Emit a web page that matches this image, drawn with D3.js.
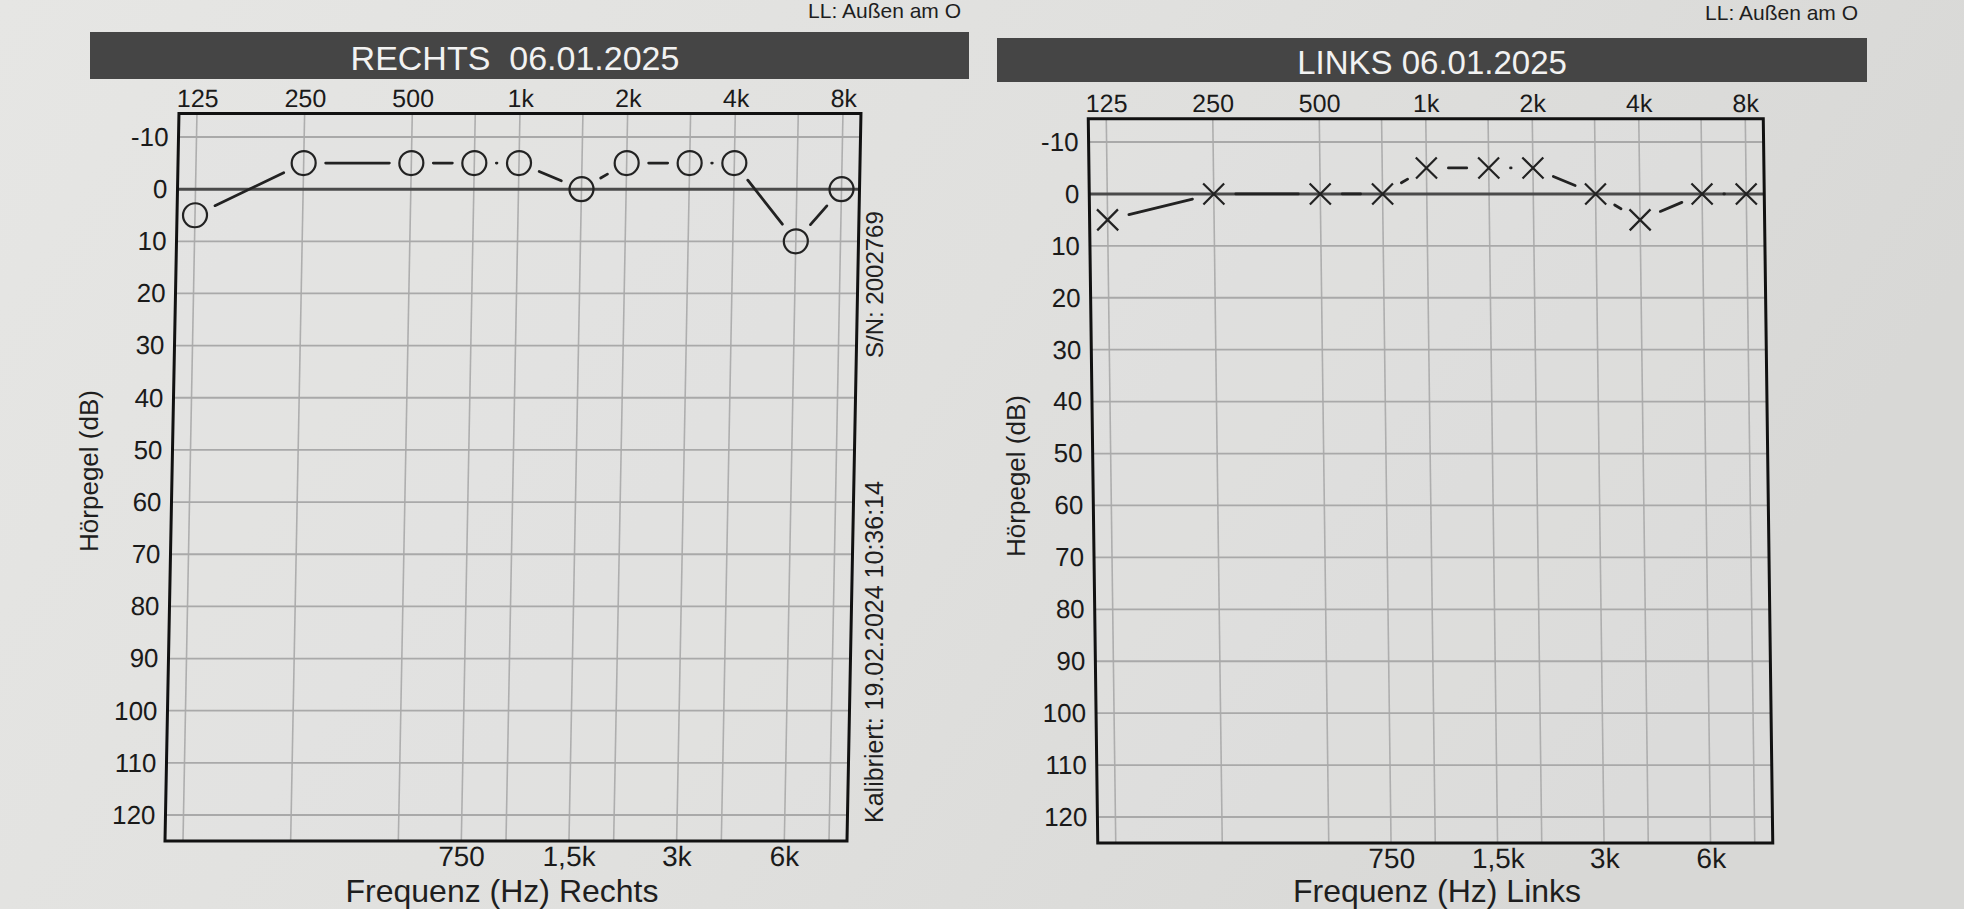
<!DOCTYPE html>
<html><head><meta charset="utf-8">
<script src="https://cdn.jsdelivr.net/npm/d3@7"></script>
<style>
html,body{margin:0;padding:0;background:#e0e0de;overflow:hidden;}
svg{display:block;}
</style></head><body>
<svg id="chart" width="1964" height="909"></svg>
<script>
// ---- data ----
const frequencies = [125, 250, 500, 750, 1000, 1500, 2000, 3000, 4000, 6000, 8000];
const rightEarDb = [5, -5, -5, -5, -5, 0, -5, -5, -5, 10, 0];
const leftEarDb  = [5, 0, 0, 0, -5, -5, -5, 0, 5, 0, 0];
const topTickValues = [125, 250, 500, 1000, 2000, 4000, 8000];
const topTickLabels = ["125", "250", "500", "1k", "2k", "4k", "8k"];
const bottomTickValues = [750, 1500, 3000, 6000];
const bottomTickLabels = ["750", "1,5k", "3k", "6k"];
const dbTicks = [-10, 0, 10, 20, 30, 40, 50, 60, 70, 80, 90, 100, 110, 120];
const panelTitles = ["RECHTS  06.01.2025", "LINKS 06.01.2025"];
const axisTitles = ["Frequenz (Hz) Rechts", "Frequenz (Hz) Links"];
const yAxisTitle = "Hörpegel (dB)";
const cornerNote = "LL: Außen am O";
const serialText = "S/N: 2002769";
const calibText = "Kalibriert: 19.02.2024 10:36:14";

// ---- layout (styling only) ----
const FONT = '"Liberation Sans", Arial, sans-serif';
const panels = [
  { values: rightEarDb, marker: "circle", xr: [190, 836], yr: [137, 815], skew: -1.1,
    bar: [90, 32, 879, 47], titleX: 515, titleY: 70, titleSize: 34,
    noteX: 961, noteY: 18, axTitleX: 502, ylabX: 98, ylabY: 471 },
  { values: leftEarDb, marker: "x", xr: [1111, 1750], yr: [142, 817], skew: 0.75,
    bar: [997, 38, 870, 44], titleX: 1432, titleY: 74, titleSize: 33,
    noteX: 1858, noteY: 20, axTitleX: 1437, ylabX: 1025, ylabY: 476 }
];

const svg = d3.select("#chart");
const defs = svg.append("defs");
const grad = defs.append("linearGradient").attr("id", "paper").attr("x1", 0).attr("x2", 1).attr("y1", 0).attr("y2", 0.3);
grad.append("stop").attr("offset", 0).attr("stop-color", "#e6e6e4");
grad.append("stop").attr("offset", 0.55).attr("stop-color", "#e0e0de");
grad.append("stop").attr("offset", 1).attr("stop-color", "#d8d8d6");
svg.append("rect").attr("width", 1964).attr("height", 909).attr("fill", "url(#paper)");

panels.forEach((p, pi) => {
  const x = d3.scaleLog().base(2).domain([125, 8000]).range(p.xr);
  const y = d3.scaleLinear().domain([-10, 120]).range(p.yr);

  // header bar and notes (outside skew)
  svg.append("rect").attr("x", p.bar[0]).attr("y", p.bar[1]).attr("width", p.bar[2]).attr("height", p.bar[3])
    .attr("fill", "#454545");
  svg.append("text").attr("x", p.titleX).attr("y", p.titleY).attr("text-anchor", "middle")
    .style("white-space", "pre").attr("font-family", FONT).attr("font-size", p.titleSize)
    .attr("fill", "#f2f2f2").text(panelTitles[pi]);
  svg.append("text").attr("x", p.noteX).attr("y", p.noteY).attr("text-anchor", "end")
    .attr("font-family", FONT).attr("font-size", 21).attr("fill", "#1e1e1e").text(cornerNote);
  svg.append("text").attr("transform", `translate(${p.ylabX},${p.ylabY}) rotate(-90)`)
    .attr("text-anchor", "middle").attr("font-family", FONT).attr("font-size", 26)
    .attr("fill", "#1e1e1e").text(yAxisTitle);
  svg.append("text").attr("x", p.axTitleX).attr("y", 902).attr("text-anchor", "middle")
    .attr("font-family", FONT).attr("font-size", 32).attr("fill", "#1e1e1e").text(axisTitles[pi]);

  const cy = (y(-10) + y(120)) / 2;
  const g = svg.append("g").attr("transform", `translate(0,${cy}) skewX(${p.skew}) translate(0,${-cy})`);

  const fx0 = x(125) - 18, fx1 = x(8000) + 18;
  const fy0 = y(-14.5), fy1 = y(125);

  g.append("rect").attr("x", fx0).attr("y", fy0).attr("width", fx1 - fx0).attr("height", fy1 - fy0)
    .attr("fill", "#e3e3e1").attr("fill-opacity", 0.35);

  // grid
  g.append("g").selectAll("line").data(frequencies).join("line")
    .attr("x1", d => x(d)).attr("x2", d => x(d)).attr("y1", fy0).attr("y2", fy1)
    .attr("stroke", "#aeaeae").attr("stroke-width", 1.6);
  g.append("g").selectAll("line").data(dbTicks.filter(d => d !== 0)).join("line")
    .attr("x1", fx0).attr("x2", fx1).attr("y1", d => y(d)).attr("y2", d => y(d))
    .attr("stroke", "#a9a9a9").attr("stroke-width", 1.8);
  g.append("line").attr("x1", fx0).attr("x2", fx1).attr("y1", y(0)).attr("y2", y(0))
    .attr("stroke", "#4a4a4a").attr("stroke-width", 3);

  // frame
  g.append("rect").attr("x", fx0).attr("y", fy0).attr("width", fx1 - fx0).attr("height", fy1 - fy0)
    .attr("fill", "none").attr("stroke", "#111").attr("stroke-width", 3);

  // axes
  const styleAxis = (sel, size) => {
    sel.select(".domain").remove();
    sel.attr("font-family", FONT).attr("font-size", size).attr("color", "#1a1a1a");
  };
  g.append("g").attr("transform", `translate(0,${fy0})`)
    .call(d3.axisTop(x).tickValues(topTickValues).tickFormat((d, i) => topTickLabels[i]).tickSize(0).tickPadding(7))
    .call(s => styleAxis(s, 25));
  g.append("g").attr("transform", `translate(0,${fy1})`)
    .call(d3.axisBottom(x).tickValues(bottomTickValues).tickFormat((d, i) => bottomTickLabels[i]).tickSize(0).tickPadding(5))
    .call(s => styleAxis(s, 28));
  g.append("g").attr("transform", `translate(${fx0},0)`)
    .call(d3.axisLeft(y).tickValues(dbTicks).tickFormat(d => String(d)).tickSize(0).tickPadding(10))
    .call(s => styleAxis(s, 26));

  // connecting lines with gaps around markers
  const pts = frequencies.map((f, i) => [x(f), y(p.values[i])]);
  const gap = 22;
  const segs = [];
  for (let i = 0; i < pts.length - 1; i++) {
    const [x1, y1] = pts[i], [x2, y2] = pts[i + 1];
    const dx = x2 - x1, dy = y2 - y1, len = Math.hypot(dx, dy);
    const ux = dx / len, uy = dy / len;
    let a = gap, b = len - gap;
    if (b - a < 1) { const m = len / 2; a = m - 0.3; b = m + 0.3; }
    segs.push([x1 + ux * a, y1 + uy * a, x1 + ux * b, y1 + uy * b]);
  }
  g.append("g").selectAll("line").data(segs).join("line")
    .attr("x1", d => d[0]).attr("y1", d => d[1]).attr("x2", d => d[2]).attr("y2", d => d[3])
    .attr("stroke", "#222").attr("stroke-width", 2.8).attr("stroke-linecap", "round");

  // markers
  const mg = g.append("g");
  if (p.marker === "circle") {
    mg.selectAll("circle").data(pts).join("circle")
      .attr("cx", d => d[0]).attr("cy", d => d[1]).attr("r", 12)
      .attr("fill", "none").attr("stroke", "#222").attr("stroke-width", 2.2);
  } else {
    const s = 10.5;
    mg.selectAll("path").data(pts).join("path")
      .attr("d", d => `M${d[0]-s},${d[1]-s}L${d[0]+s},${d[1]+s}M${d[0]-s},${d[1]+s}L${d[0]+s},${d[1]-s}`)
      .attr("fill", "none").attr("stroke", "#222").attr("stroke-width", 2.2);
  }
});

// vertical device texts
svg.append("text").attr("transform", "translate(883,358) rotate(-90)")
  .attr("font-family", FONT).attr("font-size", 24).attr("fill", "#1e1e1e").text(serialText);
svg.append("text").attr("transform", "translate(883,823) rotate(-90)")
  .attr("font-family", FONT).attr("font-size", 25).attr("fill", "#1e1e1e").text(calibText);
</script>
</body></html>
